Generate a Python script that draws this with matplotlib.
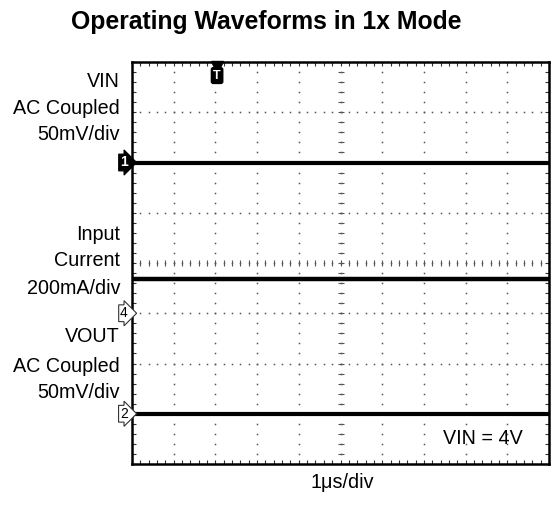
import numpy as np
import matplotlib
matplotlib.use("Agg")
import matplotlib.pyplot as plt

plt.rcParams['font.family'] = ['Liberation Sans', 'DejaVu Sans']

# ---- data (in screen divisions: x 0..10, y 0..8) ----
time_div = [0, 1, 2, 3, 4, 5, 6, 7, 8, 9, 10]
vin_trace = [6.0, 6.0, 6.0, 6.0, 6.0, 6.0, 6.0, 6.0, 6.0, 6.0, 6.0]
iin_trace = [3.68, 3.68, 3.68, 3.68, 3.68, 3.68, 3.68, 3.68, 3.68, 3.68, 3.68]
vout_trace = [1.0, 1.0, 1.0, 1.0, 1.0, 1.0, 1.0, 1.0, 1.0, 1.0, 1.0]
ch_markers = ["1", "4", "2"]
ch_levels = [6.0, 3.0, 1.0]
trigger_pos = 2.04
title = "Operating Waveforms in 1x Mode"
left_lines = ["VIN", "AC Coupled", "50mV/div", "Input", "Current", "200mA/div",
              "VOUT", "AC Coupled", "50mV/div"]
left_line_px = [82, 108, 135, 234, 261, 288, 337, 366, 393]
xlabel = "1\u03bcs/div"
note = "VIN = 4V"

W, H = 555, 508
fig = plt.figure(figsize=(W/100, H/100), dpi=100)
ax = fig.add_axes([132/W, 1-464/H, 417/W, 402/H])
ax.set_xlim(0, 10)
ax.set_ylim(0, 8)

# dotted graticule
sub_x = np.arange(0, 10.001, 0.2)
sub_y = np.arange(0, 8.001, 0.2)
for gx in range(1, 10):
    ax.plot(np.full_like(sub_y, gx), sub_y, ls='none', marker='s', ms=1.1, mfc='#555555', mec='none', zorder=1)
for gy in range(1, 8):
    ax.plot(sub_x, np.full_like(sub_x, gy), ls='none', marker='s', ms=1.1, mfc='#555555', mec='none', zorder=1)
# center crosshair ticks
ax.plot(sub_x, np.full_like(sub_x, 4), ls='none', marker='|', ms=4, mew=0.8, color='#555555', zorder=1)
ax.plot(np.full_like(sub_y, 5), sub_y, ls='none', marker='_', ms=4, mew=0.8, color='#555555', zorder=1)

# traces
ax.plot(time_div, vin_trace, color='black', lw=3.0, zorder=3)
ax.plot(time_div, iin_trace, color='black', lw=3.2, zorder=3)
ax.plot(time_div, vout_trace, color='black', lw=3.0, zorder=3)

# border & ticks
for s in ax.spines.values():
    s.set_linewidth(1.8)
ax.set_xticks(np.arange(0, 10.001, 0.2))
ax.set_yticks(np.arange(0, 8.001, 0.2))
ax.tick_params(which='both', direction='in', length=3, width=0.8, color='#333333',
               top=True, right=True, labelbottom=False, labelleft=False)

# channel markers
for lab, lev in zip(ch_markers, ch_levels):
    if lab == "1":
        ax.text(-0.1, lev, lab, ha='right', va='center', fontsize=10, fontweight='bold', color='white',
                bbox=dict(boxstyle='rarrow,pad=0.1', fc='black', ec='black', lw=0.8), zorder=5, clip_on=False)
    else:
        ax.text(-0.1, lev, lab, ha='right', va='center', fontsize=10, color='black',
                bbox=dict(boxstyle='rarrow,pad=0.1', fc='white', ec='#333333', lw=0.8), zorder=5, clip_on=False)

# trigger marker
ax.plot([trigger_pos], [7.9], marker='v', ms=8, color='black', clip_on=False, zorder=6)
ax.text(trigger_pos, 7.73, "T", ha='center', va='center', fontsize=9, fontweight='bold', color='white',
        bbox=dict(boxstyle='round,pad=0.15', fc='black', ec='black'), zorder=6)

# labels
for txt, py in zip(left_lines, left_line_px):
    fig.text(120/W, 1-py/H, txt, ha='right', va='center', fontsize=14.2)
fig.text(342/W, 1-483/H, xlabel, ha='center', va='center', fontsize=14.2)
ax.text(9.38, 0.5, note, ha='right', va='center', fontsize=14.2)
fig.text(266/W, 1-22/H, title, ha='center', va='center', fontsize=17.8, fontweight='bold')

fig.savefig("out.png", dpi=100)
